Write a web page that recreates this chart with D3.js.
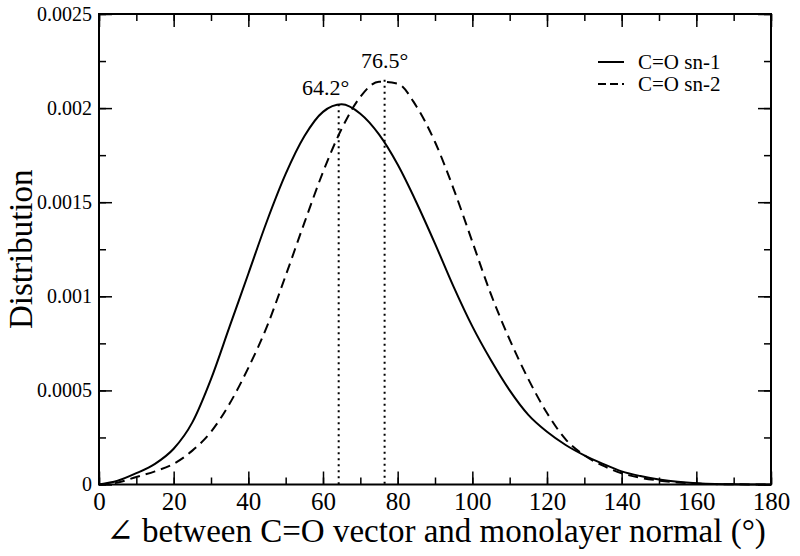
<!DOCTYPE html>
<html>
<head>
<meta charset="utf-8">
<script src="https://cdn.jsdelivr.net/npm/d3@7"></script>
<style>
  body { margin: 0; background: #fff; }
  svg text { font-family: "Liberation Serif", "Times New Roman", Times, "DejaVu Serif", serif !important; fill: #000; }
</style>
</head>
<body>
<div id="chart"></div>
<script>
  // angle (deg) and distribution values
  const angles = [0, 5, 10, 15, 20, 25, 30, 35, 40, 45, 50, 55, 60, 65, 70, 75, 80, 85, 90, 95, 100, 105, 110, 115, 120, 125, 130, 135, 140, 145, 150, 155, 160, 165, 170, 180];
  const sn1 = [0, 0.00002, 0.00006, 0.00011, 0.00019, 0.00033, 0.00056, 0.00084, 0.00112, 0.00140, 0.00165, 0.00185, 0.00198, 0.00202, 0.00197, 0.00186, 0.00170, 0.00150, 0.00128, 0.00105, 0.00084, 0.00066, 0.00050, 0.00037, 0.00028, 0.00021, 0.000155, 0.00011, 0.00007, 0.000045, 0.000027, 0.000014, 0.000006, 0.000002, 0.000001, 0];
  const sn2 = [0, 0.00001, 0.00004, 0.00007, 0.00011, 0.00018, 0.00028, 0.00043, 0.00062, 0.00084, 0.00111, 0.00139, 0.00166, 0.00189, 0.00206, 0.00214, 0.00213, 0.00201, 0.00182, 0.00157, 0.00129, 0.00101, 0.00077, 0.00056, 0.00038, 0.00024, 0.000155, 0.0001, 0.00006, 0.000036, 0.000021, 0.000011, 0.000005, 0.000002, 0.000001, 0];
  const peakAngles = [64.2, 76.5];
  const peakValues = [0.00202, 0.00215];
  const peakLabels = ["64.2°", "76.5°"];
  const xTicks = [0, 20, 40, 60, 80, 100, 120, 140, 160, 180];
  const yTicks = [0, 0.0005, 0.001, 0.0015, 0.002, 0.0025];
  const yTickLabels = ["0", "0.0005", "0.001", "0.0015", "0.002", "0.0025"];
  const seriesNames = ["C=O sn-1", "C=O sn-2"];

  const serif = '"Liberation Serif", "Times New Roman", Times, "DejaVu Serif", serif';

  const margin = {top: 14, right: 29, bottom: 71.5, left: 99},
      width = 800 - margin.left - margin.right,
      height = 556 - margin.top - margin.bottom;

  const svg = d3.select("#chart")
    .append("svg")
      .attr("width", 800)
      .attr("height", 556)
      .attr("font-family", serif)
    .append("g")
      .attr("transform", `translate(${margin.left}, ${margin.top})`);

  const x = d3.scaleLinear().domain([0, 180]).range([0, width]);
  const y = d3.scaleLinear().domain([0, 0.0025]).range([height, 0]);

  // minor ticks (all four sides, pointing inward)
  const xMinor = d3.range(0, 181, 10), yMinor = d3.range(0, 0.00251, 0.00025);
  svg.append("g").attr("transform", `translate(0, ${height})`)
    .call(d3.axisBottom(x).tickValues(xMinor).tickSize(-7).tickFormat(""));
  svg.append("g")
    .call(d3.axisTop(x).tickValues(xMinor).tickSize(-7).tickFormat(""));
  svg.append("g")
    .call(d3.axisLeft(y).tickValues(yMinor).tickSize(-7).tickFormat(""));
  svg.append("g").attr("transform", `translate(${width}, 0)`)
    .call(d3.axisRight(y).tickValues(yMinor).tickSize(-7).tickFormat(""));

  // major ticks
  svg.append("g").attr("class", "xaxis").attr("transform", `translate(0, ${height})`)
    .call(d3.axisBottom(x).tickValues(xTicks).tickSizeInner(-13).tickSizeOuter(0).tickPadding(8));
  svg.append("g")
    .call(d3.axisTop(x).tickValues(xTicks).tickSizeInner(-13).tickSizeOuter(0).tickFormat(""));
  svg.append("g").attr("class", "yaxis")
    .call(d3.axisLeft(y).tickValues(yTicks).tickSizeInner(-13).tickSizeOuter(0).tickPadding(7)
      .tickFormat((d, i) => yTickLabels[i]));
  svg.append("g").attr("transform", `translate(${width}, 0)`)
    .call(d3.axisRight(y).tickValues(yTicks).tickSizeInner(-13).tickSizeOuter(0).tickFormat(""));

  svg.selectAll(".domain").remove();
  svg.selectAll("g").attr("font-family", serif);
  svg.selectAll(".tick line").attr("stroke", "#000").attr("stroke-width", 1.5);
  svg.selectAll(".xaxis text").attr("font-size", 25);
  svg.selectAll(".yaxis text").attr("font-size", 20);

  // frame
  svg.append("rect")
    .attr("width", width).attr("height", height)
    .attr("fill", "none").attr("stroke", "#000").attr("stroke-width", 2);

  // peak markers
  svg.selectAll(".peak")
    .data(peakAngles)
    .join("line")
      .attr("x1", d => x(d)).attr("x2", d => x(d))
      .attr("y1", (d, i) => y(peakValues[i])).attr("y2", height)
      .attr("stroke", "#000").attr("stroke-width", 2)
      .attr("stroke-dasharray", "2,4");
  svg.selectAll(".peaklabel")
    .data(peakAngles)
    .join("text")
      .attr("x", (d, i) => x(d) + (i === 0 ? -13 : 0))
      .attr("y", (d, i) => y(peakValues[i]) - (i === 0 ? 9 : 12))
      .attr("text-anchor", "middle")
      .attr("font-size", 22)
      .text((d, i) => peakLabels[i]);

  const line = d3.line()
    .curve(d3.curveMonotoneX)
    .x(d => x(d[0]))
    .y(d => y(d[1]));

  svg.append("path")
    .datum(angles.map((a, i) => [a, sn1[i]]))
    .attr("fill", "none").attr("stroke", "#000").attr("stroke-width", 2)
    .attr("d", line);
  svg.append("path")
    .datum(angles.map((a, i) => [a, sn2[i]]))
    .attr("fill", "none").attr("stroke", "#000").attr("stroke-width", 2)
    .attr("stroke-dasharray", "10,6")
    .attr("d", line);

  // legend
  const dashes = [null, "8,4"];
  const lg = svg.append("g").attr("transform", "translate(499, 48)");
  seriesNames.forEach((name, i) => {
    lg.append("line")
      .attr("x1", 0).attr("x2", 26).attr("y1", i * 22).attr("y2", i * 22)
      .attr("stroke", "#000").attr("stroke-width", 2)
      .attr("stroke-dasharray", dashes[i]);
    lg.append("text")
      .attr("x", 40).attr("y", i * 22).attr("dy", "0.32em")
      .attr("font-size", 21)
      .text(name);
  });

  // axis titles
  svg.append("text")
    .attr("transform", `translate(${32 - margin.left}, ${height / 2}) rotate(-90)`)
    .attr("text-anchor", "middle")
    .attr("font-size", 33)
    .text("Distribution");
  svg.append("text")
    .attr("x", 337).attr("y", 542 - margin.top)
    .attr("text-anchor", "middle")
    .attr("font-size", 33)
    .text("∠ between C=O vector and monolayer normal (°)");
</script>
</body>
</html>
